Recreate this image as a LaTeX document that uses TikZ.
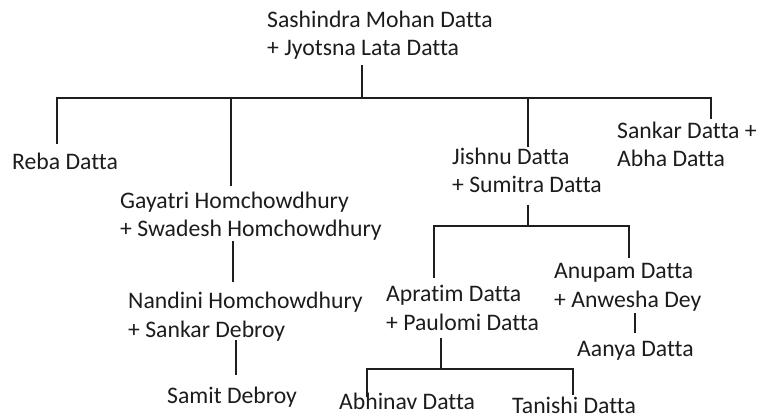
\documentclass[tikz,border=0pt]{standalone}
\usepackage{fontspec}
\setmainfont{Carlito}[Ligatures=NoCommon]
\definecolor{txt}{HTML}{1C1C1C}
\definecolor{ln}{HTML}{1E1E1E}
\tikzset{
  person/.style={anchor=base west, inner sep=0pt, align=left, text=txt,
    font=\fontsize{23.7}{28.5}\selectfont},
  link/.style={draw=ln, line width=2.8pt}
}
\begin{document}
\begin{tikzpicture}[x=1pt,y=-1pt]
\useasboundingbox (0,0) rectangle (759,419);
% people (positions give the baseline of the last line)
\node[person] (root) at (267,56) {Sashindra Mohan Datta\\+ Jyotsna Lata Datta};
\node[person] (reba) at (12,170) {Reba Datta};
\node[person] (gayatri) at (120,237) {Gayatri Homchowdhury\\+ Swadesh Homchowdhury};
\node[person] (jishnu) at (452,193) {Jishnu Datta\\+ Sumitra Datta};
\node[person] (sankar) at (617,167) {Sankar Datta +\\Abha Datta};
\node[person] (nandini) at (128,337) {Nandini Homchowdhury\\+ Sankar Debroy};
\node[person] (samit) at (167,403) {Samit Debroy};
\node[person] (apratim) at (386,330) {Apratim Datta\\+ Paulomi Datta};
\node[person] (anupam) at (554,307) {Anupam Datta\\+ Anwesha Dey};
\node[person] (aanya) at (577,356) {Aanya Datta};
\node[person] (abhinav) at (339,409) {Abhinav Datta};
\node[person] (tanishi) at (512,413) {Tanishi Datta};
% junction coordinates
\coordinate (r0) at (362,65);
\coordinate (r1) at (362,98);
\coordinate (b1l) at (57,98);
\coordinate (b1r) at (711,98);
\coordinate (rebaT) at (57,144);
\coordinate (gayB) at (231,98);
\coordinate (gayT) at (231,186);
\coordinate (jisB) at (528,98);
\coordinate (jisT) at (528,147);
\coordinate (sanT) at (711,119);
\coordinate (g0) at (233,241);
\coordinate (g1) at (233,282);
\coordinate (n0) at (236,340);
\coordinate (n1) at (236,375);
\coordinate (j0) at (528,205);
\coordinate (j1) at (528,226);
\coordinate (b2l) at (434,226);
\coordinate (b2r) at (629,226);
\coordinate (aprT) at (434,278);
\coordinate (anuT) at (629,258);
\coordinate (u0) at (635,313);
\coordinate (u1) at (635,333);
\coordinate (p0) at (441,338);
\coordinate (p1) at (441,369);
\coordinate (b3l) at (367,369);
\coordinate (b3r) at (573,369);
\coordinate (abhT) at (367,397);
\coordinate (tanT) at (573,395);
% connectors
\draw[link] (r0) -- (r1);
\draw[link] (rebaT) -- (b1l) -- (b1r) -- (sanT);
\draw[link] (gayB) -- (gayT);
\draw[link] (jisB) -- (jisT);
\draw[link] (g0) -- (g1);
\draw[link] (n0) -- (n1);
\draw[link] (j0) -- (j1);
\draw[link] (aprT) -- (b2l) -- (b2r) -- (anuT);
\draw[link] (u0) -- (u1);
\draw[link] (p0) -- (p1);
\draw[link] (abhT) -- (b3l) -- (b3r) -- (tanT);
\end{tikzpicture}
\end{document}
